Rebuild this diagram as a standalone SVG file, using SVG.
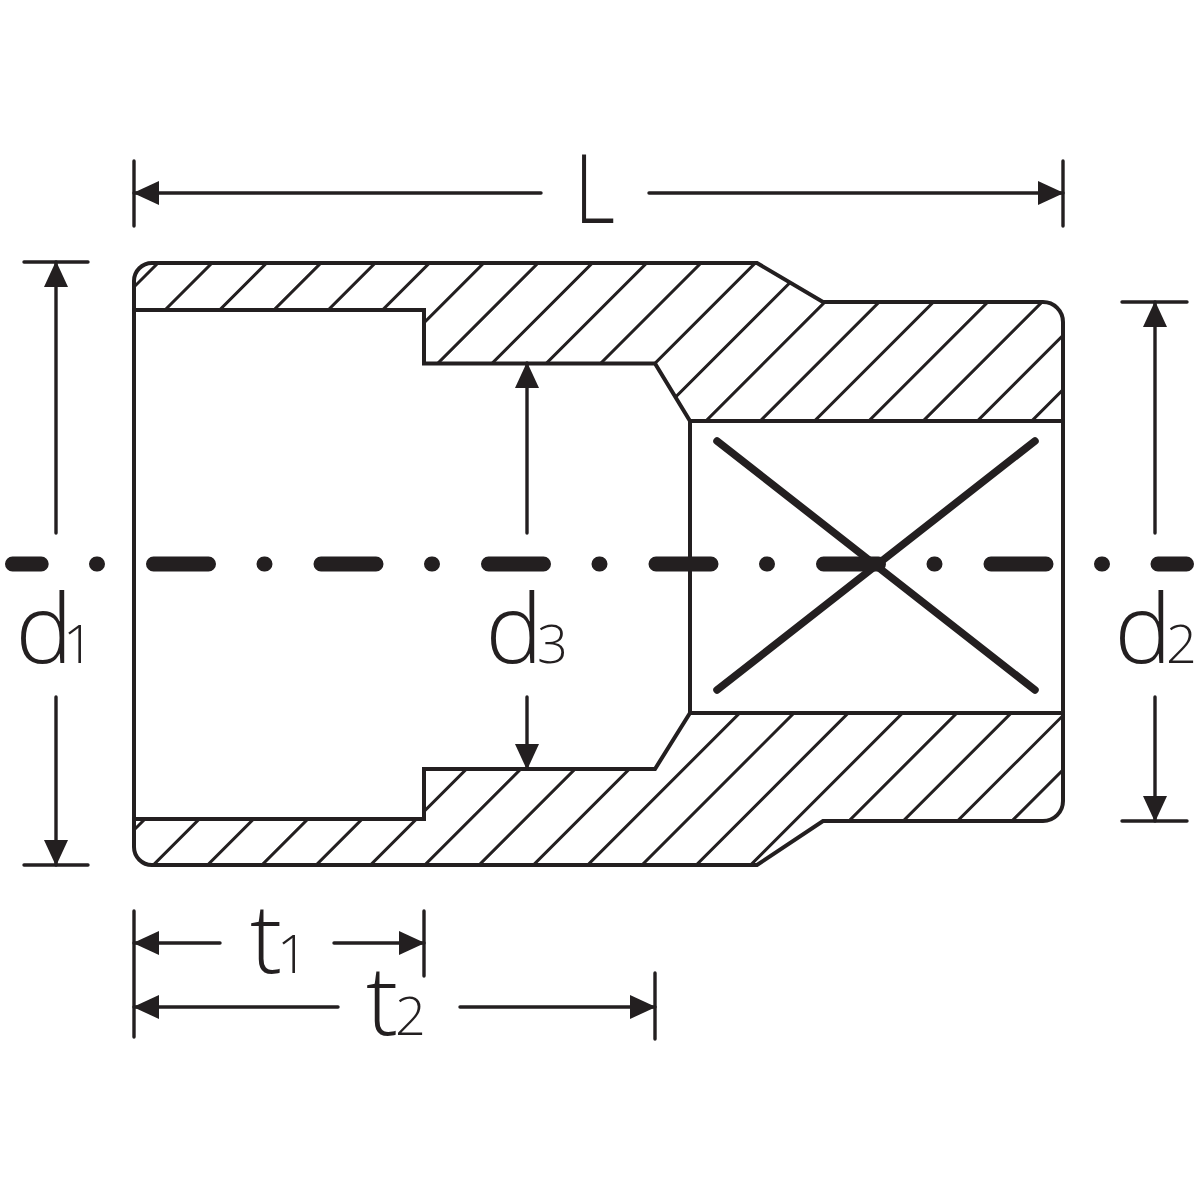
<svg xmlns="http://www.w3.org/2000/svg" width="1200" height="1200" viewBox="0 0 1200 1200">
<style>
.o{fill:none;stroke:#231f20;stroke-width:4;stroke-linejoin:miter;stroke-linecap:round}
.h{fill:none;stroke:#231f20;stroke-width:3}
.d{fill:none;stroke:#231f20;stroke-width:3.4;stroke-linecap:round}
.c{fill:none;stroke:#231f20;stroke-width:15;stroke-linecap:round}
.x{fill:none;stroke:#231f20;stroke-width:7.5;stroke-linecap:round}
.t{font-family:"Open Sans","Liberation Sans",sans-serif;font-weight:300;fill:#231f20;font-size:96px}
.s{font-size:54px;letter-spacing:0}
.k{letter-spacing:-12px}
.n{letter-spacing:-9px}
</style>
<defs>
<marker id="a" viewBox="0 0 26 24" refX="25" refY="12" markerWidth="26" markerHeight="24" markerUnits="userSpaceOnUse" orient="auto-start-reverse"><path d="M0 0L26 12L0 24Z" fill="#231f20"/></marker>
<clipPath id="mat"><path d="M152 263H757L823 302H1043A20 20 0 0 1 1063 322V801A20 20 0 0 1 1043 821H823L757 865H152A18 18 0 0 1 134 847V819H424V769H655L690 713H1063V421H690L655 363H424V310H134V281A18 18 0 0 1 152 263Z"/></clipPath>
</defs>
<g id="hatch" clip-path="url(#mat)">
<path class="h" d="M0 421L421 0M0 475L475 0M0 529.6L529.6 0M0 583.9L583.9 0M0 638.2L638.2 0M0 692.5L692.5 0M0 746.8L746.8 0M0 801.1L801.1 0M0 855.4L855.4 0M0 909.7L909.7 0M0 964L964 0M0 1018.3L1018.3 0M0 1072.6L1072.6 0M0 1126.9L1126.9 0M0 1181.2L1181.2 0M0 1235.5L1235.5 0M0 1289.8L1289.8 0M0 1344.1L1344.1 0M0 1398.4L1398.4 0M0 1452.7L1452.7 0M0 1507L1507 0M0 1561.3L1561.3 0M0 1615.6L1615.6 0M0 1669.9L1669.9 0M0 1724.2L1724.2 0M0 1778.5L1778.5 0M0 1832.8L1832.8 0M0 1887.1L1887.1 0"/>
</g>
<g id="socket">
<path class="o" d="M152 263H757L823 302H1043A20 20 0 0 1 1063 322V801A20 20 0 0 1 1043 821H823L757 865H152A18 18 0 0 1 134 847V281A18 18 0 0 1 152 263Z"/>
<path class="o" d="M134 310H424V363.500H655L690 421H1063M690 421V713M1063 713H690L655 769H424V819H134"/>
<path class="x" d="M717 441L1035 690M1035 441L717 690"/>
</g>
<g id="centerline">
<path class="c" d="M12.500 564H41.200M96.500 564H97.500M153.500 564H208.500M264 564H265M321 564H376M431.500 564H432.500M488.500 564H543.500M599 564H600M656 564H711M766.500 564H767.500M823.500 564H878.500M934 564H935M991 564H1046M1101.500 564H1102.500M1158 564H1186.500"/>
</g>
<g id="connectors">
<path class="d" d="M134 161V226M1063 161V226M24 262H88M24 865H88M1122 302H1187M1122 821H1187M134 911V1037M424 911V976M655 973V1039"/>
<path class="d" marker-start="url(#a)" d="M134 193H541"/>
<path class="d" marker-end="url(#a)" d="M649 193H1063"/>
<path class="d" marker-start="url(#a)" d="M56 262V533"/>
<path class="d" marker-end="url(#a)" d="M56 697V865"/>
<path class="d" marker-start="url(#a)" d="M1155 302V533"/>
<path class="d" marker-end="url(#a)" d="M1155 697V821"/>
<path class="d" marker-start="url(#a)" d="M527 363V533"/>
<path class="d" marker-end="url(#a)" d="M527 697V769"/>
<path class="d" marker-start="url(#a)" d="M134 943H220"/>
<path class="d" marker-end="url(#a)" d="M334 943H424"/>
<path class="d" marker-start="url(#a)" d="M134 1007H338"/>
<path class="d" marker-end="url(#a)" d="M460 1007H655"/>
</g>
<g id="labels" class="t">
<text x="574" y="223" textLength="41" lengthAdjust="spacingAndGlyphs">L</text>
<text class="k" x="15.600" y="663">d<tspan class="s" x="63">1</tspan></text>
<text class="k" x="485.600" y="663">d<tspan class="s" x="537">3</tspan></text>
<text class="k" x="1114.600" y="663">d<tspan class="s" x="1166">2</tspan></text>
<text class="n" x="250" y="973">t<tspan class="s" x="277">1</tspan></text>
<text class="n" x="366" y="1035">t<tspan class="s" x="395">2</tspan></text>
</g>
</svg>
